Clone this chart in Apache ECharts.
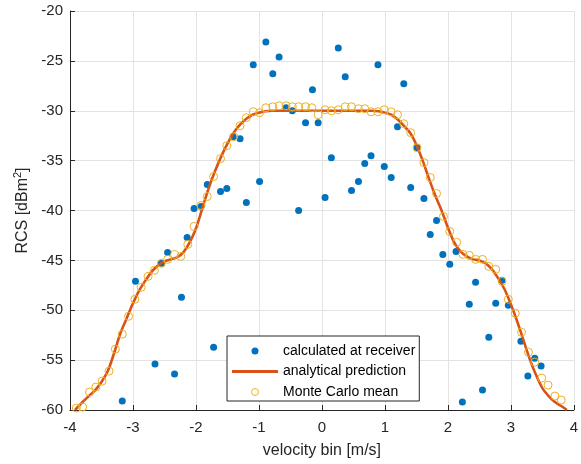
<!DOCTYPE html>
<html><head><meta charset="utf-8">
<script src="https://cdn.jsdelivr.net/npm/echarts@6/dist/echarts.min.js"></script>
<style>html,body{margin:0;padding:0;background:#fff}#c{width:581px;height:464px}</style>
</head><body><div id="c"></div>
<script>
// Axis settings
const xMin = -4, xMax = 4, xStep = 1;
const yMin = -60, yMax = -20, yStep = 5;

// calculated at receiver (blue dots)
const receiverX = [-3.17,-2.96,-2.65,-2.55,-2.45,-2.34,-2.23,-2.14,-2.03,-1.92,-1.82,-1.72,-1.61,-1.51,-1.41,-1.30,-1.20,-1.09,-0.99,-0.89,-0.78,-0.68,-0.57,-0.47,-0.37,-0.26,-0.15,-0.06,0.05,0.15,0.26,0.37,0.47,0.58,0.68,0.78,0.89,0.99,1.10,1.20,1.30,1.41,1.51,1.62,1.72,1.82,1.92,2.03,2.13,2.23,2.34,2.44,2.55,2.65,2.76,2.86,2.96,3.16,3.27,3.38,3.48];
const receiverY = [-59.1,-47.1,-55.4,-45.3,-44.2,-56.4,-48.7,-42.7,-39.8,-39.6,-37.4,-53.7,-38.1,-37.8,-32.6,-32.8,-39.2,-25.4,-37.1,-23.1,-26.3,-24.6,-29.7,-30.0,-40.0,-31.2,-27.9,-31.2,-38.7,-34.7,-23.7,-26.6,-38.0,-37.1,-35.3,-34.5,-25.4,-35.6,-36.7,-31.6,-27.3,-37.7,-33.7,-38.8,-42.4,-41.0,-44.4,-45.4,-44.1,-59.2,-49.4,-47.2,-58.0,-52.7,-49.3,-47.0,-49.5,-53.1,-56.6,-54.8,-55.6];

// analytical prediction (line)
const analyticX = [-3.92,-3.80,-3.70,-3.60,-3.50,-3.40,-3.30,-3.20,-3.10,-3.00,-2.90,-2.80,-2.70,-2.60,-2.50,-2.40,-2.30,-2.20,-2.10,-2.00,-1.90,-1.80,-1.70,-1.60,-1.50,-1.40,-1.30,-1.20,-1.10,-1.00,-0.90,-0.80,-0.40,0.00,0.40,0.80,0.90,1.00,1.10,1.20,1.30,1.40,1.50,1.60,1.70,1.80,1.90,2.00,2.10,2.20,2.30,2.40,2.50,2.60,2.70,2.80,2.90,3.00,3.10,3.20,3.30,3.40,3.50,3.60,3.70,3.80,3.89];
const analyticY = [-60.0,-59.2,-58.6,-58.0,-57.2,-56.1,-54.3,-52.3,-50.8,-49.3,-48.0,-47.0,-46.1,-45.5,-45.1,-44.9,-44.7,-44.2,-43.2,-41.8,-39.8,-37.8,-36.1,-34.6,-33.3,-32.2,-31.4,-30.8,-30.4,-30.2,-30.05,-30.0,-30.0,-30.0,-30.0,-30.0,-30.05,-30.2,-30.4,-30.85,-31.5,-32.2,-33.4,-35.0,-36.8,-38.5,-40.0,-41.7,-43.2,-44.1,-44.6,-44.9,-45.0,-45.3,-45.9,-46.8,-47.9,-49.4,-51.1,-53.0,-54.9,-56.5,-57.8,-58.6,-59.2,-59.6,-60.0];

// Monte Carlo mean (hollow circles)
const mcX = [-3.90,-3.80,-3.69,-3.59,-3.49,-3.38,-3.28,-3.17,-3.07,-2.97,-2.87,-2.76,-2.66,-2.55,-2.45,-2.34,-2.24,-2.13,-2.03,-1.92,-1.82,-1.72,-1.61,-1.51,-1.40,-1.30,-1.20,-1.09,-0.99,-0.89,-0.78,-0.68,-0.57,-0.47,-0.37,-0.26,-0.16,-0.06,0.05,0.15,0.26,0.37,0.47,0.58,0.68,0.78,0.89,0.99,1.10,1.20,1.30,1.41,1.51,1.62,1.72,1.82,1.93,2.03,2.14,2.24,2.34,2.44,2.55,2.65,2.76,2.86,2.96,3.07,3.17,3.28,3.38,3.49,3.59,3.70,3.80];
const mcY = [-59.8,-59.7,-58.2,-57.7,-57.1,-56.1,-53.9,-52.4,-50.6,-48.9,-47.7,-46.6,-46.0,-45.3,-44.9,-44.4,-44.6,-43.4,-41.6,-39.5,-38.6,-36.6,-34.8,-33.5,-32.6,-31.5,-30.7,-30.1,-30.2,-29.7,-29.6,-29.5,-29.5,-29.6,-29.6,-29.6,-29.7,-30.4,-29.9,-30.0,-29.9,-29.6,-29.6,-29.8,-29.8,-30.1,-30.1,-29.9,-30.1,-30.4,-31.3,-32.2,-33.7,-35.2,-36.7,-38.3,-40.6,-42.1,-43.2,-44.4,-44.5,-44.9,-44.9,-45.6,-45.9,-47.1,-48.9,-50.3,-52.2,-54.2,-55.2,-56.8,-57.5,-58.6,-59.0];

const legendNames = ['calculated at receiver','analytical prediction','Monte Carlo mean'];
const xName = 'velocity bin [m/s]';

const zip = (a, b) => a.map((v, i) => [v, b[i]]);
const FONT = "'Liberation Sans', Arial, Helvetica, sans-serif";
const AX = '#262626';
const GRID = '#e3e3e3';
const BLUE = '#0072BD', ORANGE = '#D95319', YELLOW = '#EDB120';

const chart = echarts.init(document.getElementById('c'), null, {renderer: 'canvas'});
chart.setOption({
  animation: false,
  backgroundColor: '#fff',
  textStyle: {fontFamily: FONT},
  grid: {left: 70, right: 4, top: 11, bottom: 52},
  legend: {
    orient: 'vertical', left: 227, top: 336,
    data: [
      {name: legendNames[0], icon: 'circle', itemStyle: {color: BLUE, opacity: 1}},
      {name: legendNames[1], icon: 'path://M0,0 H46 V3 H0 Z', itemStyle: {color: ORANGE, opacity: 1}},
      {name: legendNames[2], icon: 'circle', itemStyle: {color: '#fff', borderColor: YELLOW, borderWidth: 1}}
    ],
    itemWidth: 46, itemHeight: 7, itemGap: 6.5, symbolKeepAspect: true,
    padding: [8, 4, 2, 5],
    backgroundColor: '#fff', borderColor: AX, borderWidth: 1, borderRadius: 0,
    textStyle: {fontFamily: FONT, fontSize: 14, color: '#000'},
    selectedMode: false
  },
  xAxis: {
    type: 'value', min: xMin, max: xMax, interval: xStep,
    name: xName, nameLocation: 'middle', nameGap: 33,
    nameTextStyle: {fontFamily: FONT, fontSize: 16, color: AX},
    axisLine: {show: true, onZero: false, lineStyle: {color: AX, width: 1}},
    axisTick: {show: true, inside: true, length: 5, lineStyle: {color: AX}},
    axisLabel: {fontFamily: FONT, fontSize: 15, color: AX, margin: 10},
    splitLine: {show: true, lineStyle: {color: GRID, width: 1}}
  },
  yAxis: {
    type: 'value', min: yMin, max: yMax, interval: yStep,
    name: '{a|RCS [dBm}{s|2}{a|]}', nameLocation: 'middle', nameGap: 34,
    nameTextStyle: {fontFamily: FONT, fontSize: 16, color: AX,
      rich: {a: {fontFamily: FONT, fontSize: 16, color: AX},
             s: {fontFamily: FONT, fontSize: 11, color: AX, verticalAlign: 'bottom', padding: [0, 0, 8, 0]}}},
    axisLine: {show: true, onZero: false, lineStyle: {color: AX, width: 1}},
    axisTick: {show: true, inside: true, length: 5, lineStyle: {color: AX}},
    axisLabel: {fontFamily: FONT, fontSize: 15, color: AX, margin: 7},
    splitLine: {show: true, lineStyle: {color: GRID, width: 1}}
  },
  series: [
    {
      name: legendNames[0], type: 'scatter', data: zip(receiverX, receiverY),
      symbol: 'circle', symbolSize: 7,
      itemStyle: {color: BLUE, opacity: 1}, z: 2
    },
    {
      name: legendNames[1], type: 'line', data: zip(analyticX, analyticY),
      symbol: 'none', showSymbol: false, smooth: 0.3, clip: true,
      lineStyle: {color: ORANGE, width: 2.6},
      itemStyle: {color: ORANGE}, z: 3
    },
    {
      name: legendNames[2], type: 'scatter', data: zip(mcX, mcY),
      symbol: 'circle', symbolSize: 8,
      itemStyle: {color: 'rgba(255,255,255,0)', borderColor: YELLOW, borderWidth: 1, opacity: 1}, z: 4
    }
  ]
});
</script>
</body></html>
